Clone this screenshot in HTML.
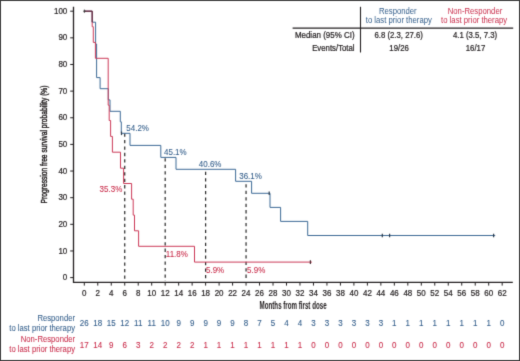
<!DOCTYPE html>
<html><head><meta charset="utf-8"><style>
html,body{margin:0;padding:0;background:#fff;}
svg{display:block;}

text{font-family:"Liberation Sans",sans-serif;fill:#231f20;stroke:#231f20;stroke-width:0.22px;}
</style></head><body>
<svg width="520" height="361" viewBox="0 0 520 361" fill="#231f20">
<defs><filter id="soft" x="0" y="0" width="520" height="361" filterUnits="userSpaceOnUse" color-interpolation-filters="sRGB"><feConvolveMatrix order="3" kernelMatrix="0.0144 0.0912 0.0144 0.0912 0.5776 0.0912 0.0144 0.0912 0.0144" divisor="1" edgeMode="duplicate" preserveAlpha="true"/></filter></defs>
<g filter="url(#soft)">
<rect width="520" height="361" fill="#fff"/>
<rect x="0.5" y="0.5" width="519" height="360" fill="none" stroke="#3a3a3a" stroke-width="1"/>
<path d="M73.5,6.8 V282.3 H512.8" fill="none" stroke="#231f20" stroke-width="1.3"/>
<line x1="70.2" y1="277.60" x2="73.5" y2="277.60" stroke="#231f20" stroke-width="1"/>
<text transform="translate(67.30,280.20) scale(0.93,1)" text-anchor="end" style="font-size:8.6px">0</text>
<line x1="70.2" y1="250.96" x2="73.5" y2="250.96" stroke="#231f20" stroke-width="1"/>
<text transform="translate(67.30,253.56) scale(0.93,1)" text-anchor="end" style="font-size:8.6px">10</text>
<line x1="70.2" y1="224.32" x2="73.5" y2="224.32" stroke="#231f20" stroke-width="1"/>
<text transform="translate(67.30,226.92) scale(0.93,1)" text-anchor="end" style="font-size:8.6px">20</text>
<line x1="70.2" y1="197.68" x2="73.5" y2="197.68" stroke="#231f20" stroke-width="1"/>
<text transform="translate(67.30,200.28) scale(0.93,1)" text-anchor="end" style="font-size:8.6px">30</text>
<line x1="70.2" y1="171.04" x2="73.5" y2="171.04" stroke="#231f20" stroke-width="1"/>
<text transform="translate(67.30,173.64) scale(0.93,1)" text-anchor="end" style="font-size:8.6px">40</text>
<line x1="70.2" y1="144.40" x2="73.5" y2="144.40" stroke="#231f20" stroke-width="1"/>
<text transform="translate(67.30,147.00) scale(0.93,1)" text-anchor="end" style="font-size:8.6px">50</text>
<line x1="70.2" y1="117.76" x2="73.5" y2="117.76" stroke="#231f20" stroke-width="1"/>
<text transform="translate(67.30,120.36) scale(0.93,1)" text-anchor="end" style="font-size:8.6px">60</text>
<line x1="70.2" y1="91.12" x2="73.5" y2="91.12" stroke="#231f20" stroke-width="1"/>
<text transform="translate(67.30,93.72) scale(0.93,1)" text-anchor="end" style="font-size:8.6px">70</text>
<line x1="70.2" y1="64.48" x2="73.5" y2="64.48" stroke="#231f20" stroke-width="1"/>
<text transform="translate(67.30,67.08) scale(0.93,1)" text-anchor="end" style="font-size:8.6px">80</text>
<line x1="70.2" y1="37.84" x2="73.5" y2="37.84" stroke="#231f20" stroke-width="1"/>
<text transform="translate(67.30,40.44) scale(0.93,1)" text-anchor="end" style="font-size:8.6px">90</text>
<line x1="70.2" y1="11.20" x2="73.5" y2="11.20" stroke="#231f20" stroke-width="1"/>
<text transform="translate(67.30,13.80) scale(0.93,1)" text-anchor="end" style="font-size:8.6px">100</text>
<line x1="84.30" y1="282.3" x2="84.30" y2="285.6" stroke="#231f20" stroke-width="1"/>
<text transform="translate(84.30,295.60) scale(0.93,1)" text-anchor="middle" style="font-size:8.6px">0</text>
<line x1="97.78" y1="282.3" x2="97.78" y2="285.6" stroke="#231f20" stroke-width="1"/>
<text transform="translate(97.78,295.60) scale(0.93,1)" text-anchor="middle" style="font-size:8.6px">2</text>
<line x1="111.26" y1="282.3" x2="111.26" y2="285.6" stroke="#231f20" stroke-width="1"/>
<text transform="translate(111.26,295.60) scale(0.93,1)" text-anchor="middle" style="font-size:8.6px">4</text>
<line x1="124.74" y1="282.3" x2="124.74" y2="285.6" stroke="#231f20" stroke-width="1"/>
<text transform="translate(124.74,295.60) scale(0.93,1)" text-anchor="middle" style="font-size:8.6px">6</text>
<line x1="138.22" y1="282.3" x2="138.22" y2="285.6" stroke="#231f20" stroke-width="1"/>
<text transform="translate(138.22,295.60) scale(0.93,1)" text-anchor="middle" style="font-size:8.6px">8</text>
<line x1="151.70" y1="282.3" x2="151.70" y2="285.6" stroke="#231f20" stroke-width="1"/>
<text transform="translate(151.70,295.60) scale(0.93,1)" text-anchor="middle" style="font-size:8.6px">10</text>
<line x1="165.18" y1="282.3" x2="165.18" y2="285.6" stroke="#231f20" stroke-width="1"/>
<text transform="translate(165.18,295.60) scale(0.93,1)" text-anchor="middle" style="font-size:8.6px">12</text>
<line x1="178.66" y1="282.3" x2="178.66" y2="285.6" stroke="#231f20" stroke-width="1"/>
<text transform="translate(178.66,295.60) scale(0.93,1)" text-anchor="middle" style="font-size:8.6px">14</text>
<line x1="192.14" y1="282.3" x2="192.14" y2="285.6" stroke="#231f20" stroke-width="1"/>
<text transform="translate(192.14,295.60) scale(0.93,1)" text-anchor="middle" style="font-size:8.6px">16</text>
<line x1="205.62" y1="282.3" x2="205.62" y2="285.6" stroke="#231f20" stroke-width="1"/>
<text transform="translate(205.62,295.60) scale(0.93,1)" text-anchor="middle" style="font-size:8.6px">18</text>
<line x1="219.10" y1="282.3" x2="219.10" y2="285.6" stroke="#231f20" stroke-width="1"/>
<text transform="translate(219.10,295.60) scale(0.93,1)" text-anchor="middle" style="font-size:8.6px">20</text>
<line x1="232.58" y1="282.3" x2="232.58" y2="285.6" stroke="#231f20" stroke-width="1"/>
<text transform="translate(232.58,295.60) scale(0.93,1)" text-anchor="middle" style="font-size:8.6px">22</text>
<line x1="246.06" y1="282.3" x2="246.06" y2="285.6" stroke="#231f20" stroke-width="1"/>
<text transform="translate(246.06,295.60) scale(0.93,1)" text-anchor="middle" style="font-size:8.6px">24</text>
<line x1="259.54" y1="282.3" x2="259.54" y2="285.6" stroke="#231f20" stroke-width="1"/>
<text transform="translate(259.54,295.60) scale(0.93,1)" text-anchor="middle" style="font-size:8.6px">26</text>
<line x1="273.02" y1="282.3" x2="273.02" y2="285.6" stroke="#231f20" stroke-width="1"/>
<text transform="translate(273.02,295.60) scale(0.93,1)" text-anchor="middle" style="font-size:8.6px">28</text>
<line x1="286.50" y1="282.3" x2="286.50" y2="285.6" stroke="#231f20" stroke-width="1"/>
<text transform="translate(286.50,295.60) scale(0.93,1)" text-anchor="middle" style="font-size:8.6px">30</text>
<line x1="299.98" y1="282.3" x2="299.98" y2="285.6" stroke="#231f20" stroke-width="1"/>
<text transform="translate(299.98,295.60) scale(0.93,1)" text-anchor="middle" style="font-size:8.6px">32</text>
<line x1="313.46" y1="282.3" x2="313.46" y2="285.6" stroke="#231f20" stroke-width="1"/>
<text transform="translate(313.46,295.60) scale(0.93,1)" text-anchor="middle" style="font-size:8.6px">34</text>
<line x1="326.94" y1="282.3" x2="326.94" y2="285.6" stroke="#231f20" stroke-width="1"/>
<text transform="translate(326.94,295.60) scale(0.93,1)" text-anchor="middle" style="font-size:8.6px">36</text>
<line x1="340.42" y1="282.3" x2="340.42" y2="285.6" stroke="#231f20" stroke-width="1"/>
<text transform="translate(340.42,295.60) scale(0.93,1)" text-anchor="middle" style="font-size:8.6px">38</text>
<line x1="353.90" y1="282.3" x2="353.90" y2="285.6" stroke="#231f20" stroke-width="1"/>
<text transform="translate(353.90,295.60) scale(0.93,1)" text-anchor="middle" style="font-size:8.6px">40</text>
<line x1="367.38" y1="282.3" x2="367.38" y2="285.6" stroke="#231f20" stroke-width="1"/>
<text transform="translate(367.38,295.60) scale(0.93,1)" text-anchor="middle" style="font-size:8.6px">42</text>
<line x1="380.86" y1="282.3" x2="380.86" y2="285.6" stroke="#231f20" stroke-width="1"/>
<text transform="translate(380.86,295.60) scale(0.93,1)" text-anchor="middle" style="font-size:8.6px">44</text>
<line x1="394.34" y1="282.3" x2="394.34" y2="285.6" stroke="#231f20" stroke-width="1"/>
<text transform="translate(394.34,295.60) scale(0.93,1)" text-anchor="middle" style="font-size:8.6px">46</text>
<line x1="407.82" y1="282.3" x2="407.82" y2="285.6" stroke="#231f20" stroke-width="1"/>
<text transform="translate(407.82,295.60) scale(0.93,1)" text-anchor="middle" style="font-size:8.6px">48</text>
<line x1="421.30" y1="282.3" x2="421.30" y2="285.6" stroke="#231f20" stroke-width="1"/>
<text transform="translate(421.30,295.60) scale(0.93,1)" text-anchor="middle" style="font-size:8.6px">50</text>
<line x1="434.78" y1="282.3" x2="434.78" y2="285.6" stroke="#231f20" stroke-width="1"/>
<text transform="translate(434.78,295.60) scale(0.93,1)" text-anchor="middle" style="font-size:8.6px">52</text>
<line x1="448.26" y1="282.3" x2="448.26" y2="285.6" stroke="#231f20" stroke-width="1"/>
<text transform="translate(448.26,295.60) scale(0.93,1)" text-anchor="middle" style="font-size:8.6px">54</text>
<line x1="461.74" y1="282.3" x2="461.74" y2="285.6" stroke="#231f20" stroke-width="1"/>
<text transform="translate(461.74,295.60) scale(0.93,1)" text-anchor="middle" style="font-size:8.6px">56</text>
<line x1="475.22" y1="282.3" x2="475.22" y2="285.6" stroke="#231f20" stroke-width="1"/>
<text transform="translate(475.22,295.60) scale(0.93,1)" text-anchor="middle" style="font-size:8.6px">58</text>
<line x1="488.70" y1="282.3" x2="488.70" y2="285.6" stroke="#231f20" stroke-width="1"/>
<text transform="translate(488.70,295.60) scale(0.93,1)" text-anchor="middle" style="font-size:8.6px">60</text>
<line x1="502.18" y1="282.3" x2="502.18" y2="285.6" stroke="#231f20" stroke-width="1"/>
<text transform="translate(502.18,295.60) scale(0.93,1)" text-anchor="middle" style="font-size:8.6px">62</text>
<text transform="translate(259.6,308.9) scale(0.62,1)" style="font-size:10px;font-weight:bold;stroke-width:0.05px">Months from first dose</text>
<text transform="translate(47.1,203.4) rotate(-90) scale(0.703,1)" style="font-size:9.5px;stroke-width:0.45px">Progression free survival probability (%)</text>
<line x1="124.74" y1="133.5" x2="124.74" y2="281" stroke="#262626" stroke-width="1.2" stroke-dasharray="3.3 3.15"/>
<line x1="165.18" y1="158.3" x2="165.18" y2="281" stroke="#262626" stroke-width="1.2" stroke-dasharray="3.3 3.15"/>
<line x1="205.62" y1="171.7" x2="205.62" y2="281" stroke="#262626" stroke-width="1.2" stroke-dasharray="3.3 3.15"/>
<line x1="246.06" y1="184.3" x2="246.06" y2="281" stroke="#262626" stroke-width="1.2" stroke-dasharray="3.3 3.15"/>
<path d="M84.3,11.2 H92.2 V22.2 H95.6 V44 H96.6 V77.6 H100.1 V88.7 H108.3 V99.9 H110 V111.3 H120.3 V121.8 H121.3 V133.3 H130.0 V145.4 H160.8 V157.4 H176.0 V169.3 H235.6 V181.3 H251.6 V193.3 H270.0 V207.4 H280.6 V221.4 H307.7 V235.5 H495.2" fill="none" stroke="#3d6a96" stroke-width="1.0"/>
<path d="M84.3,11.2 H92.2 V26.7 H93.3 V42.4 H95.4 V58.3 H108.2 V105.2 H109.2 V120.5 H110.6 V136.4 H112.4 V152.2 H120.5 V168.2 H123.6 V183.5 H131.6 V199.2 H133.2 V215.1 H134.5 V230.8 H138.6 V246.3 H194.5 V262.1 H311.9" fill="none" stroke="#cc3a58" stroke-width="1.0"/>
<path d="M84.3,11.2 H92.2 V22.2" fill="none" stroke="#4e2c3e" stroke-width="1.0"/>
<path d="M84.4,9.6 V12.8 M83.2,11.2 H85.6" stroke="#333" stroke-width="0.9" fill="none"/>
<line x1="121.5" y1="131.5" x2="121.5" y2="135.10000000000002" stroke="#2a3a4a" stroke-width="1.2"/>
<line x1="269.2" y1="191.5" x2="269.2" y2="195.10000000000002" stroke="#2a3a4a" stroke-width="1.2"/>
<line x1="382.3" y1="233.7" x2="382.3" y2="237.3" stroke="#2a3a4a" stroke-width="1.2"/>
<line x1="389.6" y1="233.7" x2="389.6" y2="237.3" stroke="#2a3a4a" stroke-width="1.2"/>
<line x1="493.6" y1="233.7" x2="493.6" y2="237.3" stroke="#2a3a4a" stroke-width="1.2"/>
<line x1="310.4" y1="260.3" x2="310.4" y2="263.90000000000003" stroke="#4a2a30" stroke-width="1.2"/>
<text transform="translate(126.30,130.60) scale(0.93,1)" style="font-size:8.6px;fill:#325d8a;stroke:#325d8a;stroke-width:0.08px">54.2%</text>
<text transform="translate(164.00,154.80) scale(0.93,1)" style="font-size:8.6px;fill:#325d8a;stroke:#325d8a;stroke-width:0.08px">45.1%</text>
<text transform="translate(198.80,167.00) scale(0.93,1)" style="font-size:8.6px;fill:#325d8a;stroke:#325d8a;stroke-width:0.08px">40.6%</text>
<text transform="translate(239.20,179.00) scale(0.93,1)" style="font-size:8.6px;fill:#325d8a;stroke:#325d8a;stroke-width:0.08px">36.1%</text>
<text transform="translate(99.60,191.70) scale(0.93,1)" style="font-size:8.6px;fill:#c92c4a;stroke:#c92c4a;stroke-width:0.08px">35.3%</text>
<text transform="translate(165.80,257.40) scale(0.93,1)" style="font-size:8.6px;fill:#c92c4a;stroke:#c92c4a;stroke-width:0.08px">11.8%</text>
<text transform="translate(206.00,272.50) scale(0.93,1)" style="font-size:8.6px;fill:#c92c4a;stroke:#c92c4a;stroke-width:0.08px">5.9%</text>
<text transform="translate(247.10,272.50) scale(0.93,1)" style="font-size:8.6px;fill:#c92c4a;stroke:#c92c4a;stroke-width:0.08px">5.9%</text>
<text transform="translate(84.30,326.20) scale(0.93,1)" text-anchor="middle" style="font-size:8.6px;fill:#325d8a;stroke:#325d8a;stroke-width:0.1px">26</text>
<text transform="translate(84.30,347.60) scale(0.93,1)" text-anchor="middle" style="font-size:8.6px;fill:#c92c4a;stroke:#c92c4a;stroke-width:0.1px">17</text>
<text transform="translate(97.78,326.20) scale(0.93,1)" text-anchor="middle" style="font-size:8.6px;fill:#325d8a;stroke:#325d8a;stroke-width:0.1px">18</text>
<text transform="translate(97.78,347.60) scale(0.93,1)" text-anchor="middle" style="font-size:8.6px;fill:#c92c4a;stroke:#c92c4a;stroke-width:0.1px">14</text>
<text transform="translate(111.26,326.20) scale(0.93,1)" text-anchor="middle" style="font-size:8.6px;fill:#325d8a;stroke:#325d8a;stroke-width:0.1px">15</text>
<text transform="translate(111.26,347.60) scale(0.93,1)" text-anchor="middle" style="font-size:8.6px;fill:#c92c4a;stroke:#c92c4a;stroke-width:0.1px">9</text>
<text transform="translate(124.74,326.20) scale(0.93,1)" text-anchor="middle" style="font-size:8.6px;fill:#325d8a;stroke:#325d8a;stroke-width:0.1px">12</text>
<text transform="translate(124.74,347.60) scale(0.93,1)" text-anchor="middle" style="font-size:8.6px;fill:#c92c4a;stroke:#c92c4a;stroke-width:0.1px">6</text>
<text transform="translate(138.22,326.20) scale(0.93,1)" text-anchor="middle" style="font-size:8.6px;fill:#325d8a;stroke:#325d8a;stroke-width:0.1px">11</text>
<text transform="translate(138.22,347.60) scale(0.93,1)" text-anchor="middle" style="font-size:8.6px;fill:#c92c4a;stroke:#c92c4a;stroke-width:0.1px">3</text>
<text transform="translate(151.70,326.20) scale(0.93,1)" text-anchor="middle" style="font-size:8.6px;fill:#325d8a;stroke:#325d8a;stroke-width:0.1px">11</text>
<text transform="translate(151.70,347.60) scale(0.93,1)" text-anchor="middle" style="font-size:8.6px;fill:#c92c4a;stroke:#c92c4a;stroke-width:0.1px">2</text>
<text transform="translate(165.18,326.20) scale(0.93,1)" text-anchor="middle" style="font-size:8.6px;fill:#325d8a;stroke:#325d8a;stroke-width:0.1px">10</text>
<text transform="translate(165.18,347.60) scale(0.93,1)" text-anchor="middle" style="font-size:8.6px;fill:#c92c4a;stroke:#c92c4a;stroke-width:0.1px">2</text>
<text transform="translate(178.66,326.20) scale(0.93,1)" text-anchor="middle" style="font-size:8.6px;fill:#325d8a;stroke:#325d8a;stroke-width:0.1px">9</text>
<text transform="translate(178.66,347.60) scale(0.93,1)" text-anchor="middle" style="font-size:8.6px;fill:#c92c4a;stroke:#c92c4a;stroke-width:0.1px">2</text>
<text transform="translate(192.14,326.20) scale(0.93,1)" text-anchor="middle" style="font-size:8.6px;fill:#325d8a;stroke:#325d8a;stroke-width:0.1px">9</text>
<text transform="translate(192.14,347.60) scale(0.93,1)" text-anchor="middle" style="font-size:8.6px;fill:#c92c4a;stroke:#c92c4a;stroke-width:0.1px">2</text>
<text transform="translate(205.62,326.20) scale(0.93,1)" text-anchor="middle" style="font-size:8.6px;fill:#325d8a;stroke:#325d8a;stroke-width:0.1px">9</text>
<text transform="translate(205.62,347.60) scale(0.93,1)" text-anchor="middle" style="font-size:8.6px;fill:#c92c4a;stroke:#c92c4a;stroke-width:0.1px">1</text>
<text transform="translate(219.10,326.20) scale(0.93,1)" text-anchor="middle" style="font-size:8.6px;fill:#325d8a;stroke:#325d8a;stroke-width:0.1px">9</text>
<text transform="translate(219.10,347.60) scale(0.93,1)" text-anchor="middle" style="font-size:8.6px;fill:#c92c4a;stroke:#c92c4a;stroke-width:0.1px">1</text>
<text transform="translate(232.58,326.20) scale(0.93,1)" text-anchor="middle" style="font-size:8.6px;fill:#325d8a;stroke:#325d8a;stroke-width:0.1px">9</text>
<text transform="translate(232.58,347.60) scale(0.93,1)" text-anchor="middle" style="font-size:8.6px;fill:#c92c4a;stroke:#c92c4a;stroke-width:0.1px">1</text>
<text transform="translate(246.06,326.20) scale(0.93,1)" text-anchor="middle" style="font-size:8.6px;fill:#325d8a;stroke:#325d8a;stroke-width:0.1px">8</text>
<text transform="translate(246.06,347.60) scale(0.93,1)" text-anchor="middle" style="font-size:8.6px;fill:#c92c4a;stroke:#c92c4a;stroke-width:0.1px">1</text>
<text transform="translate(259.54,326.20) scale(0.93,1)" text-anchor="middle" style="font-size:8.6px;fill:#325d8a;stroke:#325d8a;stroke-width:0.1px">7</text>
<text transform="translate(259.54,347.60) scale(0.93,1)" text-anchor="middle" style="font-size:8.6px;fill:#c92c4a;stroke:#c92c4a;stroke-width:0.1px">1</text>
<text transform="translate(273.02,326.20) scale(0.93,1)" text-anchor="middle" style="font-size:8.6px;fill:#325d8a;stroke:#325d8a;stroke-width:0.1px">5</text>
<text transform="translate(273.02,347.60) scale(0.93,1)" text-anchor="middle" style="font-size:8.6px;fill:#c92c4a;stroke:#c92c4a;stroke-width:0.1px">1</text>
<text transform="translate(286.50,326.20) scale(0.93,1)" text-anchor="middle" style="font-size:8.6px;fill:#325d8a;stroke:#325d8a;stroke-width:0.1px">4</text>
<text transform="translate(286.50,347.60) scale(0.93,1)" text-anchor="middle" style="font-size:8.6px;fill:#c92c4a;stroke:#c92c4a;stroke-width:0.1px">1</text>
<text transform="translate(299.98,326.20) scale(0.93,1)" text-anchor="middle" style="font-size:8.6px;fill:#325d8a;stroke:#325d8a;stroke-width:0.1px">4</text>
<text transform="translate(299.98,347.60) scale(0.93,1)" text-anchor="middle" style="font-size:8.6px;fill:#c92c4a;stroke:#c92c4a;stroke-width:0.1px">1</text>
<text transform="translate(313.46,326.20) scale(0.93,1)" text-anchor="middle" style="font-size:8.6px;fill:#325d8a;stroke:#325d8a;stroke-width:0.1px">3</text>
<text transform="translate(313.46,347.60) scale(0.93,1)" text-anchor="middle" style="font-size:8.6px;fill:#c92c4a;stroke:#c92c4a;stroke-width:0.1px">0</text>
<text transform="translate(326.94,326.20) scale(0.93,1)" text-anchor="middle" style="font-size:8.6px;fill:#325d8a;stroke:#325d8a;stroke-width:0.1px">3</text>
<text transform="translate(326.94,347.60) scale(0.93,1)" text-anchor="middle" style="font-size:8.6px;fill:#c92c4a;stroke:#c92c4a;stroke-width:0.1px">0</text>
<text transform="translate(340.42,326.20) scale(0.93,1)" text-anchor="middle" style="font-size:8.6px;fill:#325d8a;stroke:#325d8a;stroke-width:0.1px">3</text>
<text transform="translate(340.42,347.60) scale(0.93,1)" text-anchor="middle" style="font-size:8.6px;fill:#c92c4a;stroke:#c92c4a;stroke-width:0.1px">0</text>
<text transform="translate(353.90,326.20) scale(0.93,1)" text-anchor="middle" style="font-size:8.6px;fill:#325d8a;stroke:#325d8a;stroke-width:0.1px">3</text>
<text transform="translate(353.90,347.60) scale(0.93,1)" text-anchor="middle" style="font-size:8.6px;fill:#c92c4a;stroke:#c92c4a;stroke-width:0.1px">0</text>
<text transform="translate(367.38,326.20) scale(0.93,1)" text-anchor="middle" style="font-size:8.6px;fill:#325d8a;stroke:#325d8a;stroke-width:0.1px">3</text>
<text transform="translate(367.38,347.60) scale(0.93,1)" text-anchor="middle" style="font-size:8.6px;fill:#c92c4a;stroke:#c92c4a;stroke-width:0.1px">0</text>
<text transform="translate(380.86,326.20) scale(0.93,1)" text-anchor="middle" style="font-size:8.6px;fill:#325d8a;stroke:#325d8a;stroke-width:0.1px">3</text>
<text transform="translate(380.86,347.60) scale(0.93,1)" text-anchor="middle" style="font-size:8.6px;fill:#c92c4a;stroke:#c92c4a;stroke-width:0.1px">0</text>
<text transform="translate(394.34,326.20) scale(0.93,1)" text-anchor="middle" style="font-size:8.6px;fill:#325d8a;stroke:#325d8a;stroke-width:0.1px">1</text>
<text transform="translate(394.34,347.60) scale(0.93,1)" text-anchor="middle" style="font-size:8.6px;fill:#c92c4a;stroke:#c92c4a;stroke-width:0.1px">0</text>
<text transform="translate(407.82,326.20) scale(0.93,1)" text-anchor="middle" style="font-size:8.6px;fill:#325d8a;stroke:#325d8a;stroke-width:0.1px">1</text>
<text transform="translate(407.82,347.60) scale(0.93,1)" text-anchor="middle" style="font-size:8.6px;fill:#c92c4a;stroke:#c92c4a;stroke-width:0.1px">0</text>
<text transform="translate(421.30,326.20) scale(0.93,1)" text-anchor="middle" style="font-size:8.6px;fill:#325d8a;stroke:#325d8a;stroke-width:0.1px">1</text>
<text transform="translate(421.30,347.60) scale(0.93,1)" text-anchor="middle" style="font-size:8.6px;fill:#c92c4a;stroke:#c92c4a;stroke-width:0.1px">0</text>
<text transform="translate(434.78,326.20) scale(0.93,1)" text-anchor="middle" style="font-size:8.6px;fill:#325d8a;stroke:#325d8a;stroke-width:0.1px">1</text>
<text transform="translate(434.78,347.60) scale(0.93,1)" text-anchor="middle" style="font-size:8.6px;fill:#c92c4a;stroke:#c92c4a;stroke-width:0.1px">0</text>
<text transform="translate(448.26,326.20) scale(0.93,1)" text-anchor="middle" style="font-size:8.6px;fill:#325d8a;stroke:#325d8a;stroke-width:0.1px">1</text>
<text transform="translate(448.26,347.60) scale(0.93,1)" text-anchor="middle" style="font-size:8.6px;fill:#c92c4a;stroke:#c92c4a;stroke-width:0.1px">0</text>
<text transform="translate(461.74,326.20) scale(0.93,1)" text-anchor="middle" style="font-size:8.6px;fill:#325d8a;stroke:#325d8a;stroke-width:0.1px">1</text>
<text transform="translate(461.74,347.60) scale(0.93,1)" text-anchor="middle" style="font-size:8.6px;fill:#c92c4a;stroke:#c92c4a;stroke-width:0.1px">0</text>
<text transform="translate(475.22,326.20) scale(0.93,1)" text-anchor="middle" style="font-size:8.6px;fill:#325d8a;stroke:#325d8a;stroke-width:0.1px">1</text>
<text transform="translate(475.22,347.60) scale(0.93,1)" text-anchor="middle" style="font-size:8.6px;fill:#c92c4a;stroke:#c92c4a;stroke-width:0.1px">0</text>
<text transform="translate(488.70,326.20) scale(0.93,1)" text-anchor="middle" style="font-size:8.6px;fill:#325d8a;stroke:#325d8a;stroke-width:0.1px">1</text>
<text transform="translate(488.70,347.60) scale(0.93,1)" text-anchor="middle" style="font-size:8.6px;fill:#c92c4a;stroke:#c92c4a;stroke-width:0.1px">0</text>
<text transform="translate(502.18,326.20) scale(0.93,1)" text-anchor="middle" style="font-size:8.6px;fill:#325d8a;stroke:#325d8a;stroke-width:0.1px">0</text>
<text transform="translate(502.18,347.60) scale(0.93,1)" text-anchor="middle" style="font-size:8.6px;fill:#c92c4a;stroke:#c92c4a;stroke-width:0.1px">0</text>
<text transform="translate(75.00,320.90) scale(0.905,1)" text-anchor="end" style="font-size:8.5px;fill:#325d8a;stroke:#325d8a;stroke-width:0.05px">Responder</text>
<text transform="translate(75.00,331.20) scale(0.905,1)" text-anchor="end" style="font-size:8.5px;fill:#325d8a;stroke:#325d8a;stroke-width:0.05px">to last prior therapy</text>
<text transform="translate(75.00,342.40) scale(0.905,1)" text-anchor="end" style="font-size:8.5px;fill:#c92c4a;stroke:#c92c4a;stroke-width:0.05px">Non-Responder</text>
<text transform="translate(75.00,352.00) scale(0.905,1)" text-anchor="end" style="font-size:8.5px;fill:#c92c4a;stroke:#c92c4a;stroke-width:0.05px">to last prior therapy</text>
<line x1="360.5" y1="6.8" x2="360.5" y2="52.5" stroke="#231f20" stroke-width="1.1"/>
<line x1="292.6" y1="28.1" x2="513.2" y2="28.1" stroke="#231f20" stroke-width="1.1"/>
<text transform="translate(397.80,14.30) scale(0.91,1)" text-anchor="middle" style="font-size:8.5px;fill:#325d8a;stroke:#325d8a;stroke-width:0px">Responder</text>
<text transform="translate(398.80,23.10) scale(0.91,1)" text-anchor="middle" style="font-size:8.5px;fill:#325d8a;stroke:#325d8a;stroke-width:0px">to last prior therapy</text>
<text transform="translate(475.00,14.30) scale(0.91,1)" text-anchor="middle" style="font-size:8.5px;fill:#c92c4a;stroke:#c92c4a;stroke-width:0px">Non-Responder</text>
<text transform="translate(474.10,23.10) scale(0.91,1)" text-anchor="middle" style="font-size:8.5px;fill:#c92c4a;stroke:#c92c4a;stroke-width:0px">to last prior therapy</text>
<text transform="translate(354.60,38.20) scale(0.96,1)" text-anchor="end" style="font-size:8.3px">Median (95% CI)</text>
<text transform="translate(354.60,50.50) scale(0.94,1)" text-anchor="end" style="font-size:8.3px">Events/Total</text>
<text transform="translate(398.70,38.20) scale(0.94,1)" text-anchor="middle" style="font-size:8.3px">6.8 (2.3, 27.6)</text>
<text transform="translate(399.10,50.50) scale(0.94,1)" text-anchor="middle" style="font-size:8.3px">19/26</text>
<text transform="translate(475.00,38.20) scale(0.94,1)" text-anchor="middle" style="font-size:8.3px">4.1 (3.5, 7.3)</text>
<text transform="translate(475.50,50.50) scale(0.94,1)" text-anchor="middle" style="font-size:8.3px">16/17</text>
</g>
</svg>
</body></html>
